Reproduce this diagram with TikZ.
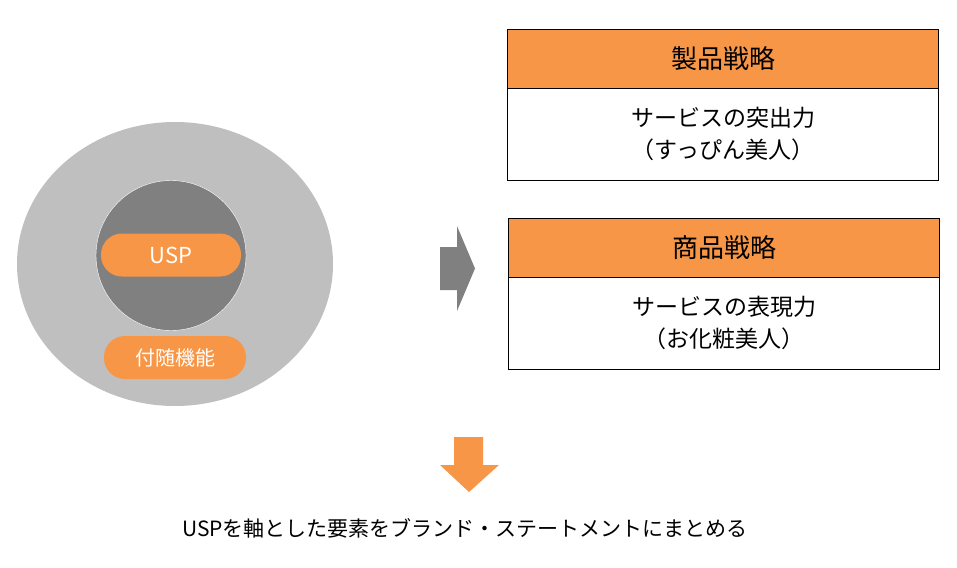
\documentclass[tikz,border=0pt]{standalone}
\usepackage{fontspec}
\setmainfont{Noto Sans CJK JP}
\usetikzlibrary{positioning,shapes.geometric}
\definecolor{accent}{HTML}{F79646}
\definecolor{lightgrey}{HTML}{BFBFBF}
\definecolor{midgrey}{HTML}{808080}

\begin{document}
\begin{tikzpicture}[x=1pt,y=-1pt]
  \tikzstyle{head}=[draw=black,fill=accent,minimum width=431pt,minimum height=59pt,inner sep=0pt,font=\fontsize{26}{30}\selectfont]
  \tikzstyle{body}=[draw=black,fill=white,minimum width=431pt,minimum height=92pt,inner sep=0pt,align=center,font=\fontsize{23}{32}\selectfont]
  \tikzstyle{pill}=[fill=accent,rounded corners=21pt,text=white,inner sep=0pt,minimum height=43pt]

  \useasboundingbox (0,0) rectangle (957,567);

  % left: USP inside the product
  \node[ellipse,fill=lightgrey,minimum width=316pt,minimum height=284pt] (outer) at (175,264) {};
  \node[circle,fill=midgrey,draw=white,minimum size=150pt] (core) at (171,255.5) {};
  \node[pill,minimum width=140pt,font=\fontsize{22}{24}\selectfont] (usp) at (171,255) {USP};
  \node[pill,minimum width=142pt,font=\fontsize{20}{24}\selectfont] (extra) at (175,357.5) {付随機能};

  % arrows
  \fill[midgrey] (440,247) -- (457,247) -- (457,226) -- (475,268.5) -- (457,311) -- (457,290) -- (440,290) -- cycle;
  \fill[accent] (454,437) -- (483,437) -- (483,465) -- (499,465) -- (469,492) -- (440,465) -- (454,465) -- cycle;

  % right: two strategies
  \node[head] (prod) at (723,58.5) {製品戦略};
  \node[body] (prodtxt) [below=-0.4pt of prod] {サービスの突出力\\（すっぴん美人）};

  \node[head] (goods) at (724,247.5) {商品戦略};
  \node[body] (goodstxt) [below=-0.4pt of goods] {サービスの表現力\\（お化粧美人）};

  \node[font=\fontsize{21}{24}\selectfont] (summary) at (465,528) {USPを軸とした要素をブランド・ステートメントにまとめる};
\end{tikzpicture}
\end{document}
